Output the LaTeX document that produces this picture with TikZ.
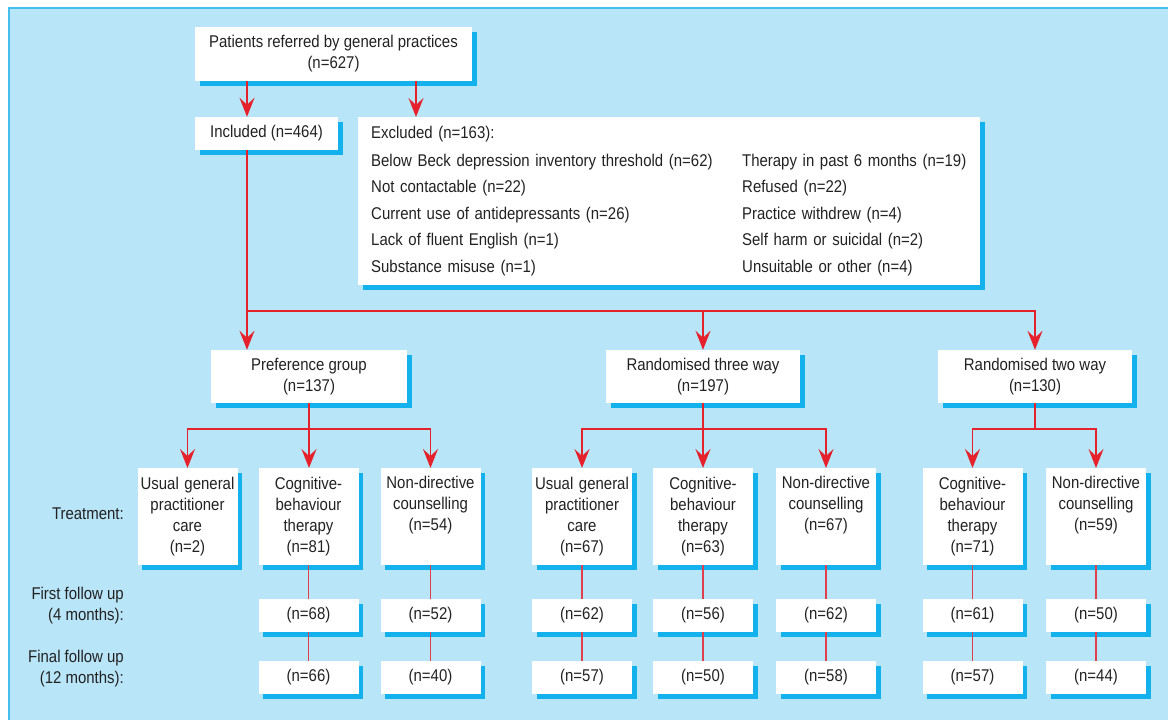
\documentclass[tikz,border=0pt]{standalone}
\usepackage{fontspec}
\setmainfont{Liberation Sans}[FakeStretch=0.88]
\usepackage{tikz}
\usetikzlibrary{arrows.meta,shadows}
\definecolor{pnlBlue}{HTML}{B9E5F8}
\definecolor{pnlEdge}{HTML}{45BFEF}
\definecolor{shdBlue}{HTML}{14B2EC}
\definecolor{arrRed}{HTML}{E5222B}
\definecolor{linkRed}{HTML}{E0404C}
\definecolor{txtGrey}{HTML}{222222}

\begin{document}
\begin{tikzpicture}[
    x=1pt, y=-1pt,
    font=\fontsize{17}{21}\selectfont, text=txtGrey,
    box/.style={fill=white, inner sep=0pt, align=center, drop shadow={shadow xshift=4.5pt, shadow yshift=-4.5pt, fill=shdBlue, opacity=1}},
    group/.style={box, minimum width=#1, minimum height=53pt},
    treat/.style={box, anchor=north, minimum width=100pt, text width=98pt, minimum height=97pt},
    fup/.style={box, minimum width=100pt, minimum height=33pt},
    lbl/.style={anchor=east, align=right, inner sep=0pt},
    arrow/.style={-{Stealth[length=19pt,width=15pt,inset=7pt]}, line width=1.6pt, draw=arrRed},
    fline/.style={line width=1.2pt, draw=linkRed}
]
\useasboundingbox (0,0) rectangle (1168,720);
\fill[pnlBlue] (9,8) rectangle (1168,720);
\draw[pnlEdge, line width=2pt] (9,720) -- (9,8) -- (1168,8);

% screening
\node[box, minimum width=277pt, minimum height=54pt] (ref) at (333.5,54) {Patients referred by general practices\\(n=627)};
\node[box, minimum width=143pt, minimum height=33pt] (incl) at (266.5,133.5) {Included (n=464)};
\node[box, anchor=north west, text width=596pt, inner xsep=13pt, minimum height=168pt, align=left] (excl) at (358,117) {%
  \begin{tabular}{@{}p{371pt}@{}l@{}}
  Excluded (n=163): & \\[7pt]
  Below Beck depression inventory threshold (n=62) & Therapy in past 6 months (n=19)\\[5.5pt]
  Not contactable (n=22) & Refused (n=22)\\[5.5pt]
  Current use of antidepressants (n=26) & Practice withdrew (n=4)\\[5.5pt]
  Lack of fluent English (n=1) & Self harm or suicidal (n=2)\\[5.5pt]
  Substance misuse (n=1) & Unsuitable or other (n=4)
  \end{tabular}};

% groups
\node[group=196pt] (pref) at (309,376.5) {Preference group\\(n=137)};
\node[group=194pt] (three) at (703,376.5) {Randomised three way\\(n=197)};
\node[group=194pt] (two) at (1035,376.5) {Randomised two way\\(n=130)};

% treatments
\node[treat] (p1) at (187.5,468) {Usual general\\practitioner\\care\\(n=2)};
\node[treat] (p2) at (308.5,468) {Cognitive-\\behaviour\\therapy\\(n=81)};
\node[treat] (p3) at (430.5,468) {Non-directive\\counselling\\(n=54)\\\strut};
\node[treat] (t1) at (582,468) {Usual general\\practitioner\\care\\(n=67)};
\node[treat] (t2) at (703,468) {Cognitive-\\behaviour\\therapy\\(n=63)};
\node[treat] (t3) at (826,468) {Non-directive\\counselling\\(n=67)\\\strut};
\node[treat] (w1) at (972.5,468) {Cognitive-\\behaviour\\therapy\\(n=71)};
\node[treat] (w2) at (1096,468) {Non-directive\\counselling\\(n=59)\\\strut};

\node[lbl] (treatlbl) at (124,514) {Treatment:};
\node[lbl] (firstlbl) at (124,606) {First follow up\\(4 months):};
\node[lbl] (finallbl) at (124,669) {Final follow up\\(12 months):};

% follow ups
\foreach \col/\x/\a/\b in {p2/308.5/68/66, p3/430.5/52/40, t1/582/62/57, t2/703/56/50, t3/826/62/58, w1/972.5/61/57, w2/1096/50/44} {
  \node[fup] (f\col) at (\x,615.5) {(n=\a)};
  \node[fup] (e\col) at (\x,677.5) {(n=\b)};
  \draw[fline] (\col.south) -- (f\col.north);
  \draw[fline] (f\col.south) -- (e\col.north);
}

% connectors
\coordinate (split) at (247,311);
\draw[arrow] (ref.south -| split) -- (incl.north -| split);
\draw[arrow] ([xshift=58pt]excl.north west |- ref.south) -- ([xshift=58pt]excl.north west);
\draw[arrow] (incl.south -| split) -- (pref.north -| split);
\draw[arrow] (split) -| (three.north);
\draw[arrow] (split) -| (two.north);

\coordinate (prefsplit) at (309,429);
\draw[arrow] (pref.south) -- (pref.south |- p2.north);
\draw[arrow] (prefsplit) -| (p1.north);
\draw[arrow] (prefsplit) -| (p3.north);
\coordinate (threesplit) at (703,429);
\draw[arrow] (three.south) -- (t2.north);
\draw[arrow] (threesplit) -| (t1.north);
\draw[arrow] (threesplit) -| (t3.north);
\coordinate (twosplit) at (1035,429);
\draw[line width=1.6pt, draw=arrRed] (two.south) -- (twosplit);
\draw[arrow] (twosplit) -| (w1.north);
\draw[arrow] (twosplit) -| (w2.north);
\end{tikzpicture}
\end{document}
